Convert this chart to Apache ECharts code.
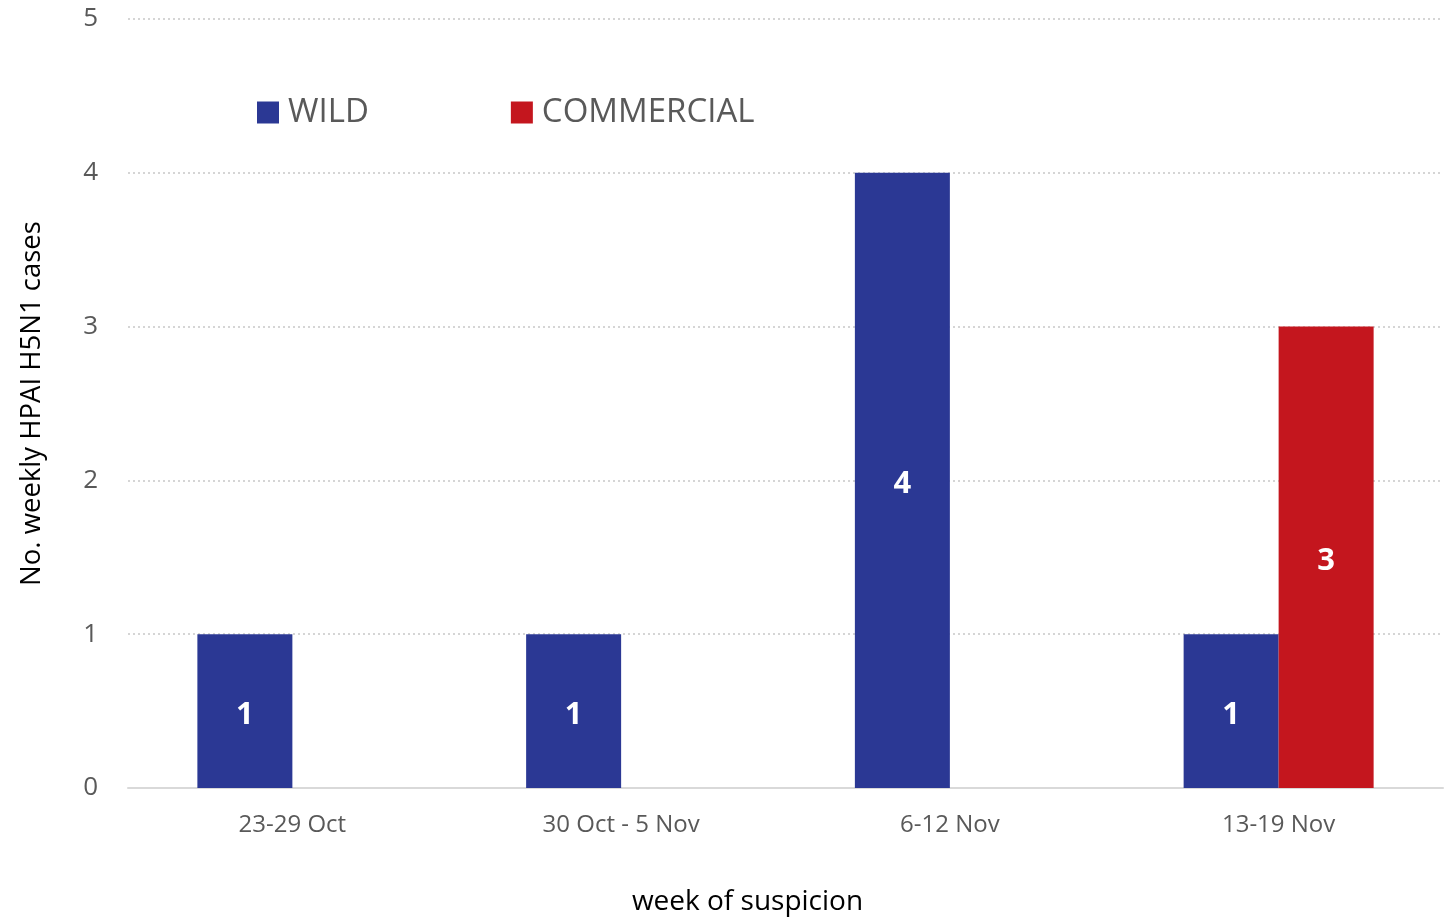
<!DOCTYPE html>
<html><head><meta charset="utf-8">
<script src="https://cdn.jsdelivr.net/npm/echarts@6/dist/echarts.min.js"></script>
<style>html,body{margin:0;padding:0;background:#fff}#c{width:1450px;height:921px}</style>
</head><body><div id="c"></div>
<script>
const categories = ['23-29 Oct', '30 Oct - 5 Nov', '6-12 Nov', '13-19 Nov'];
const wild = [1, 1, 4, 1];
const commercial = [null, null, null, 3];
const yTicks = [0, 1, 2, 3, 4, 5];

const chart = echarts.init(document.getElementById('c'));
const font = '"Open Sans", "Noto Sans", sans-serif';
const lbl = {show: true, position: 'inside', color: '#fff', fontWeight: 'bold', fontSize: 31, fontFamily: font,
  offset: [0, 4], formatter: p => (p.value == null ? '' : p.value)};
chart.setOption({
  animation: false,
  textStyle: {fontFamily: font},
  grid: {left: 128, right: 7, top: 19, bottom: 132},
  legend: {
    left: 252, top: 91, itemWidth: 22, itemHeight: 22, itemGap: 142,
    icon: 'rect',
    textStyle: {fontSize: 33, color: '#595959', fontFamily: font, padding: [0, 0, 0, 4]},
    data: ['WILD', 'COMMERCIAL']
  },
  xAxis: {
    type: 'category', data: categories,
    axisLine: {lineStyle: {color: '#d9d9d9', width: 2}},
    axisTick: {show: false},
    axisLabel: {fontSize: 24, color: '#595959', margin: 25, fontFamily: font},
    name: 'week of suspicion', nameLocation: 'middle', nameGap: 100,
    nameTextStyle: {fontSize: 28, color: '#000', fontFamily: font, padding: [0, 76, 0, 0]}
  },
  yAxis: {
    type: 'value', min: yTicks[0], max: yTicks[yTicks.length - 1], interval: 1,
    axisLine: {show: false}, axisTick: {show: false},
    axisLabel: {fontSize: 26, color: '#595959', margin: 30, fontFamily: font},
    splitLine: {lineStyle: {color: '#c8c8c8', type: [2, 3], width: 1.5}},
    name: 'No. weekly HPAI H5N1 cases', nameLocation: 'middle', nameGap: 82, nameRotate: 90,
    nameTextStyle: {fontSize: 27.5, color: '#000', fontFamily: font}
  },
  series: [
    {name: 'WILD', type: 'bar', data: wild, barWidth: 95, barGap: '0%',
     itemStyle: {color: '#2B3894'}, label: lbl},
    {name: 'COMMERCIAL', type: 'bar', data: commercial, barWidth: 95, barGap: '0%',
     itemStyle: {color: '#C4161E'}, label: lbl}
  ]
});
</script></body></html>
